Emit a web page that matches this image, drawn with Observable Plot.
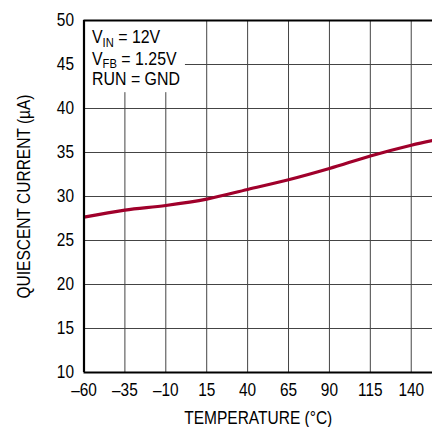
<!DOCTYPE html>
<html>
<head>
<meta charset="utf-8">
<script src="https://cdn.jsdelivr.net/npm/d3@7"></script>
<script src="https://cdn.jsdelivr.net/npm/@observablehq/plot@0.6"></script>
<style>
  html, body { margin: 0; padding: 0; background: #fff; }
  #chart svg { display: block; }
</style>
</head>
<body>
<div id="chart"></div>
<script>
const FONT = "'Liberation Sans Narrow', 'Arial Narrow', 'Liberation Sans', sans-serif";

// Data
const temperature = [-60, -35, -10, 15, 40, 65, 90, 115, 140, 153];
const current = [27.65, 28.45, 28.98, 29.7, 30.8, 31.9, 33.18, 34.6, 35.83, 36.36];
const xTicks = [-60, -35, -10, 15, 40, 65, 90, 115, 140];
const yTicks = [10, 15, 20, 25, 30, 35, 40, 45, 50];
const xDomain = [-60, 153];
const yDomain = [10, 50];
const noteBox = [{x1: -60, x2: 2, y1: 41.8, y2: 50}];
const noteLines = [
  [{t: "V"}, {t: "IN", sub: true}, {t: " = 12V"}],
  [{t: "V"}, {t: "FB", sub: true}, {t: " = 1.25V"}],
  [{t: "RUN = GND"}]
];
const xLabel = "TEMPERATURE (°C)";
const yLabel = "QUIESCENT CURRENT (µA)";

const data = temperature.map((t, i) => ({t, v: current[i]}));
const fmt = d => d < 0 ? "\u2013" + Math.abs(d) : String(d);

const chart = Plot.plot({
  width: 432,
  height: 427,
  marginLeft: 83.5,
  marginRight: 0,
  marginTop: 20,
  marginBottom: 55,
  style: {fontFamily: FONT, fontSize: "17.5px", color: "#000", background: "#fff"},
  x: {domain: xDomain},
  y: {domain: yDomain},
  marks: [
    Plot.ruleX(xTicks.slice(1), {stroke: "#444", strokeWidth: 1, strokeOpacity: 1}),
    Plot.ruleY(yTicks.slice(1, -1), {stroke: "#444", strokeWidth: 1, strokeOpacity: 1}),
    Plot.rect(noteBox, {x1: "x1", x2: "x2", y1: "y1", y2: "y2", fill: "#fff"}),
    Plot.line(data, {x: "t", y: "v", stroke: "#a0002b", strokeWidth: 3.2, curve: "catmull-rom", clip: true}),
    Plot.ruleY([50], {stroke: "#000", strokeWidth: 2}),
    Plot.ruleY([10], {stroke: "#000", strokeWidth: 2.2}),
    Plot.ruleX([-60], {stroke: "#000", strokeWidth: 2.2}),
    Plot.axisX({ticks: xTicks, tickFormat: fmt, tickSize: 0, tickPadding: 11, fontSize: 17.5,
      label: xLabel, labelAnchor: "center", labelArrow: "none", labelOffset: 51, ariaLabel: "x-axis"}),
    Plot.axisY({ticks: yTicks, tickSize: 0, tickPadding: 10, fontSize: 17.5,
      label: yLabel, labelAnchor: "center", labelArrow: "none", labelOffset: 66, ariaLabel: "y-axis"})
  ]
});

document.getElementById("chart").appendChild(chart);

// Condense text to mimic a narrow face
const svg = d3.select(chart);
svg.selectAll("text").each(function() {
  const el = this;
  const txt = el.textContent;
  const len = el.getComputedTextLength();
  let target = len * 0.88;
  if (txt === xLabel) target = 148;
  if (txt === yLabel) target = 204;
  el.setAttribute("textLength", target);
  el.setAttribute("lengthAdjust", "spacingAndGlyphs");
});

// Annotation with subscripts, placed via the plot's scales
const sx = chart.scale("x"), sy = chart.scale("y");
const x0 = sx.apply(-60) + 8.5;
const y0 = sy.apply(50);
const g = svg.append("g")
  .attr("transform", `translate(${x0},${y0}) scale(0.86,1)`)
  .attr("text-anchor", "start");
const baselines = [23.3, 45, 65.3];
noteLines.forEach((parts, i) => {
  const txt = g.append("text")
    .attr("x", 0).attr("y", baselines[i])
    .attr("font-family", FONT).attr("font-size", 18.5).attr("fill", "#000");
  parts.forEach((p, j) => {
    const ts = txt.append("tspan").text(p.t);
    if (p.sub) ts.attr("font-size", 13).attr("dy", 3.5);
    else if (j > 0) ts.attr("dy", -3.5);
  });
});
</script>
</body>
</html>
